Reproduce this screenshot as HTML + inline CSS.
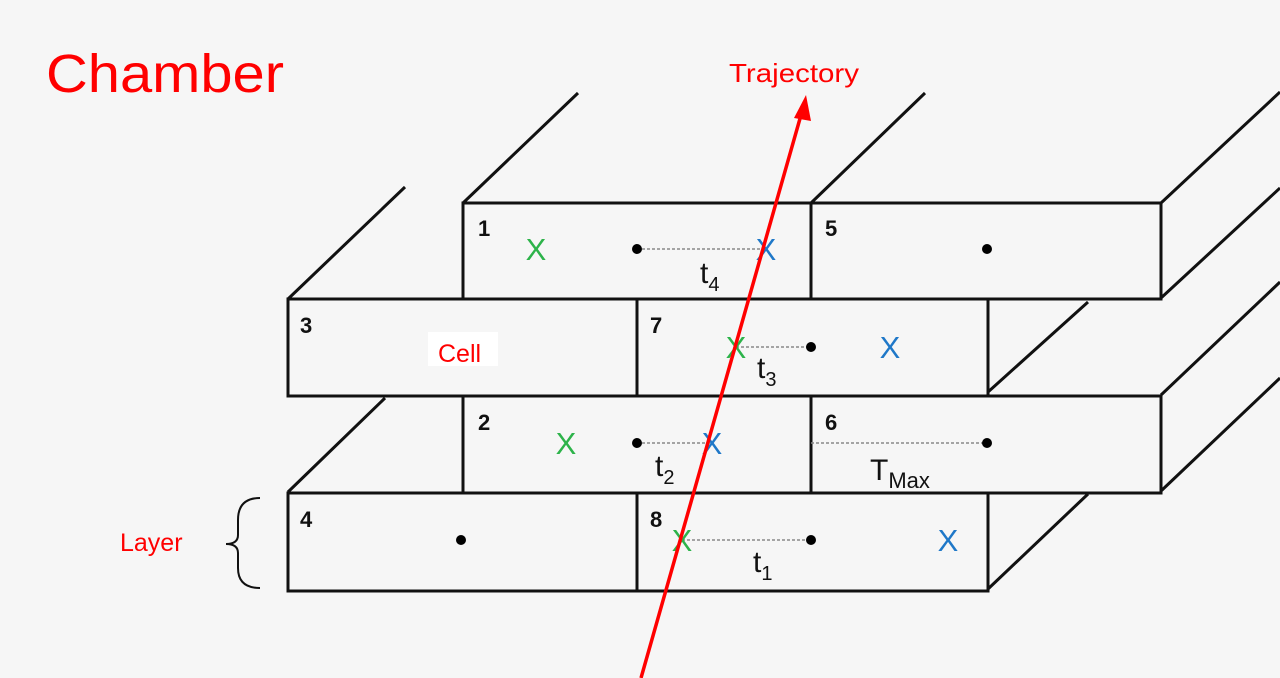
<!DOCTYPE html>
<html><head><meta charset="utf-8"><style>
html,body{margin:0;padding:0;background:#f6f6f6;}
svg{display:block;font-family:"Liberation Sans",sans-serif;}
</style></head><body>
<svg width="1280" height="678" viewBox="0 0 1280 678">
<rect width="1280" height="678" fill="#f6f6f6"/>
<text x="46" y="92" font-size="54" fill="#f00" textLength="238" lengthAdjust="spacingAndGlyphs">Chamber</text>
<g stroke="#111" stroke-width="3" fill="none">
<line x1="463" y1="203" x2="578" y2="93"/>
<line x1="811" y1="203" x2="925" y2="93"/>
<line x1="1161" y1="203" x2="1280" y2="92"/>
<line x1="1161" y1="298" x2="1280" y2="188"/>
<line x1="288" y1="299" x2="405" y2="187"/>
<line x1="988" y1="392" x2="1088" y2="302"/>
<line x1="1161" y1="395" x2="1280" y2="282"/>
<line x1="1161" y1="491" x2="1280" y2="378"/>
<line x1="288" y1="492" x2="385" y2="398"/>
<line x1="988" y1="589" x2="1088" y2="494"/>
<rect x="463" y="203" width="698" height="96" fill="#f6f6f6"/>
<line x1="811" y1="203" x2="811" y2="299"/>
<rect x="288" y="299" width="700" height="97" fill="#f6f6f6"/>
<line x1="637" y1="299" x2="637" y2="396"/>
<rect x="463" y="396" width="698" height="97" fill="#f6f6f6"/>
<line x1="811" y1="396" x2="811" y2="493"/>
<rect x="288" y="493" width="700" height="98" fill="#f6f6f6"/>
<line x1="637" y1="493" x2="637" y2="591"/>
</g>
<g font-size="22" font-weight="bold" fill="#111">
<text x="478" y="236">1</text><text x="825" y="236">5</text>
<text x="300" y="333">3</text><text x="650" y="333">7</text>
<text x="478" y="430">2</text><text x="825" y="430">6</text>
<text x="300" y="527">4</text><text x="650" y="527">8</text>
</g>
<g stroke="#888" stroke-width="1.5" stroke-dasharray="3,2">
<line x1="637" y1="249" x2="766" y2="249"/>
<line x1="736" y1="347" x2="811" y2="347"/>
<line x1="637" y1="443" x2="712" y2="443"/>
<line x1="811" y1="443" x2="987" y2="443"/>
<line x1="682" y1="540" x2="811" y2="540"/>
</g>
<g fill="#000">
<circle cx="637" cy="249" r="5"/><circle cx="987" cy="249" r="5"/>
<circle cx="811" cy="347" r="5"/><circle cx="637" cy="443" r="5"/>
<circle cx="987" cy="443" r="5"/><circle cx="461" cy="540" r="5"/>
<circle cx="811" cy="540" r="5"/>
</g>
<g font-size="31" text-anchor="middle">
<text x="536" y="260" fill="#2db34a">X</text><text x="766" y="260" fill="#1f78c8">X</text>
<text x="736" y="358" fill="#2db34a">X</text><text x="890" y="358" fill="#1f78c8">X</text>
<text x="566" y="454" fill="#2db34a">X</text><text x="712" y="454" fill="#1f78c8">X</text>
<text x="682" y="551" fill="#2db34a">X</text><text x="948" y="551" fill="#1f78c8">X</text>
</g>
<g font-size="30" fill="#111">
<text x="700" y="283">t<tspan font-size="20" dy="8">4</tspan></text>
<text x="757" y="378">t<tspan font-size="20" dy="8">3</tspan></text>
<text x="655" y="476">t<tspan font-size="20" dy="8">2</tspan></text>
<text x="870" y="480">T<tspan font-size="22" dy="8">Max</tspan></text>
<text x="753" y="572">t<tspan font-size="20" dy="8">1</tspan></text>
</g>
<rect x="428" y="332" width="70" height="34" fill="#fff"/>
<text x="438" y="362" font-size="25" fill="#f00">Cell</text>
<text x="120" y="551" font-size="25" fill="#f00">Layer</text>
<path d="M260 498 Q238 498 238 520 L238 535 Q238 544 226 544 Q238 544 238 553 L238 568 Q238 588 260 588" stroke="#111" stroke-width="2" fill="none"/>
<line x1="641" y1="678" x2="803" y2="108" stroke="#f00" stroke-width="3.5"/>
<polygon points="806,95 794,118 811,121" fill="#f00"/>
<text x="729" y="82" font-size="26" fill="#f00" textLength="130" lengthAdjust="spacingAndGlyphs">Trajectory</text>
</svg>
</body></html>
